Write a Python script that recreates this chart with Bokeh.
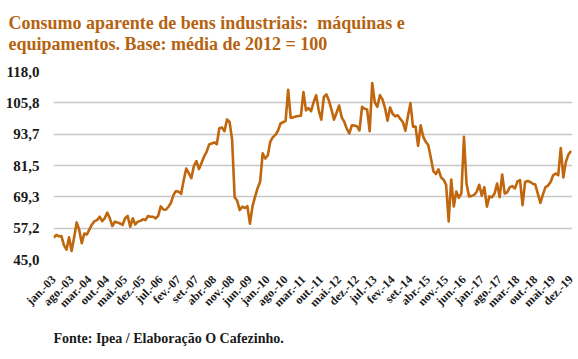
import math
from bokeh.plotting import figure
from bokeh.layouts import column
from bokeh.models import Range1d, FixedTicker, Label, Title, ColumnDataSource
from bokeh.embed import file_html
from bokeh.resources import INLINE

title_lines = ["Consumo aparente de bens industriais:\u00a0 máquinas e",
               "equipamentos. Base: média de 2012 = 100"]
source_note = "Fonte: Ipea / Elaboração O Cafezinho."

y_ticks = [45.0, 57.2, 69.3, 81.5, 93.7, 105.8, 118.0]
y_tick_labels = ["45,0", "57,2", "69,3", "81,5", "93,7", "105,8", "118,0"]

x_tick_labels = ["jan.-03", "ago.-03", "mar.-04", "out.-04", "mai.-05", "dez.-05",
                 "jul.-06", "fev.-07", "set.-07", "abr.-08", "nov.-08", "jun.-09",
                 "jan.-10", "ago.-10", "mar.-11", "out.-11", "mai.-12", "dez.-12",
                 "jul.-13", "fev.-14", "set.-14", "abr.-15", "nov.-15", "jun.-16",
                 "jan.-17", "ago.-17", "mar.-18", "out.-18", "mai.-19", "dez.-19"]

# monthly index, jan-03 .. dez-19
values_2003_2005 = [53.5, 54.6, 54.0, 54.1, 50.6, 48.8, 53.6, 48.3, 53.5, 59.4, 56.5, 51.3,
                    55.1, 54.7, 56.7, 58.6, 59.9, 60.3, 61.6, 59.9, 61.0, 63.2, 61.0, 58.0,
                    59.7, 59.4, 59.0, 58.4, 61.0, 61.9, 57.7, 61.0, 58.6, 59.7, 60.0, 60.6]
values_2006_2008 = [60.3, 61.9, 61.6, 61.6, 61.0, 62.0, 65.6, 64.4, 64.3, 65.5, 67.0, 70.1,
                    71.6, 71.3, 70.5, 75.8, 80.3, 78.5, 76.6, 81.3, 83.2, 80.1, 82.5, 85.0,
                    86.8, 89.7, 90.0, 90.5, 89.8, 96.0, 96.3, 94.8, 99.4, 98.4, 91.5, 69.2]
values_2009_2011 = [67.8, 64.2, 65.5, 65.0, 65.7, 58.9, 65.6, 69.3, 72.7, 75.2, 86.2, 84.2,
                    85.4, 90.8, 92.5, 93.4, 95.0, 97.8, 98.3, 98.8, 110.9, 100.1, 100.2, 100.5,
                    100.7, 100.8, 110.0, 102.9, 103.8, 102.6, 106.1, 108.8, 102.9, 99.3, 108.1, 109.1]
values_2012_2014 = [106.7, 103.2, 99.3, 102.0, 104.8, 100.2, 98.5, 95.8, 94.0, 97.1, 97.0, 96.7,
                    95.1, 104.3, 103.5, 103.2, 94.8, 113.5, 106.0, 104.3, 108.8, 107.2, 103.9, 98.9,
                    104.0, 101.6, 100.6, 101.0, 99.6, 98.4, 95.0, 100.6, 105.7, 96.6, 96.6, 89.1]
values_2015_2017 = [97.1, 92.7, 90.7, 89.4, 84.5, 79.3, 78.2, 80.0, 76.9, 76.0, 74.0, 59.8,
                    76.0, 65.6, 71.4, 69.0, 70.7, 92.6, 74.5, 69.5, 69.7, 70.1, 71.3, 74.0,
                    69.8, 73.1, 65.5, 69.5, 69.2, 70.6, 74.5, 69.2, 78.0, 70.6, 71.1, 73.1]
values_2018_2019 = [73.5, 72.6, 75.3, 75.8, 66.1, 75.1, 75.5, 75.1, 74.4, 74.1, 70.5, 67.0,
                    70.3, 73.1, 73.7, 75.1, 77.7, 78.4, 77.7, 88.3, 76.9, 82.9, 85.8, 87.1]

values = (values_2003_2005 + values_2006_2008 + values_2009_2011 +
          values_2012_2014 + values_2015_2017 + values_2018_2019)
months = list(range(len(values)))

TITLE_COLOR = "#B5630F"
LINE_COLOR = "#C0660C"
FONT = "Liberation Serif"

W = 578
LEFT, RIGHT = 53, 6
H_TITLE, H_MAIN, H_NOTE = 65, 260, 34
TOP, BOTTOM = 6, 66


def strip(height, top=0):
    f = figure(width=W, height=height, output_backend="svg", toolbar_location=None,
               x_range=Range1d(LEFT, W - RIGHT), y_range=Range1d(0, max(1, height - top)),
               x_axis_type=None, y_axis_type=None,
               min_border_left=LEFT, min_border_right=RIGHT,
               min_border_top=top, min_border_bottom=0)
    f.outline_line_color = None
    f.grid.visible = False
    f.background_fill_color = "white"
    f.border_fill_color = "white"
    return f


# title strip
pt = strip(H_TITLE, top=63)
pt.add_layout(Title(text=title_lines[0] + "\n" + title_lines[1], align="left",
                    offset=-(LEFT - 8), standoff=21,
                    text_font=FONT, text_font_style="bold", text_font_size="18px",
                    text_line_height=1.07, text_color=TITLE_COLOR), "above")

# main chart
p = figure(width=W, height=H_MAIN, output_backend="svg", toolbar_location=None,
           x_range=Range1d(-0.1, len(values) - 0.4), y_range=Range1d(45.0, 118.0),
           min_border_left=LEFT, min_border_right=RIGHT,
           min_border_top=TOP, min_border_bottom=BOTTOM)
p.outline_line_color = None
p.background_fill_color = "white"
p.border_fill_color = "white"

src = ColumnDataSource(dict(x=months, y=values))
p.line("x", "y", source=src, line_width=2.6, line_color=LINE_COLOR, line_join="round")

p.xgrid.grid_line_color = None
p.ygrid.ticker = FixedTicker(ticks=y_ticks)
p.ygrid.grid_line_color = "#C8C8C8"
p.ygrid.grid_line_width = 1.5

p.yaxis.ticker = FixedTicker(ticks=y_ticks)
p.yaxis.major_label_overrides = {t: l for t, l in zip(y_ticks, y_tick_labels)}
p.yaxis.axis_line_color = None
p.yaxis.major_tick_line_color = None
p.yaxis.minor_tick_line_color = None
p.yaxis.major_label_text_font = FONT
p.yaxis.major_label_text_font_style = "bold"
p.yaxis.major_label_text_font_size = "15px"
p.yaxis.major_label_text_color = "#1a1a1a"
p.yaxis.major_label_standoff = 8

x_ticks = list(range(0, len(values), 7))
p.xaxis.ticker = FixedTicker(ticks=x_ticks)
p.xaxis.major_label_overrides = {t: l for t, l in zip(x_ticks, x_tick_labels)}
p.xaxis.axis_line_color = None
p.xaxis.major_tick_line_color = None
p.xaxis.minor_tick_line_color = None
p.xaxis.major_label_orientation = math.pi / 4
p.xaxis.major_label_text_font = FONT
p.xaxis.major_label_text_font_style = "bold"
p.xaxis.major_label_text_font_size = "12px"
p.xaxis.major_label_text_color = "#1a1a1a"
p.xaxis.major_label_standoff = 12

# source note strip (x data = page pixels, since frames align with the chart)
pn = strip(H_NOTE)
pn.add_layout(Label(x=LEFT, y=21, text=source_note,
                    text_font=FONT, text_font_style="bold", text_font_size="14px",
                    text_color="#1a1a1a", text_baseline="alphabetic"))

layout = column(pt, p, pn, spacing=0)
open("out.html", "w").write(file_html(layout, INLINE))
